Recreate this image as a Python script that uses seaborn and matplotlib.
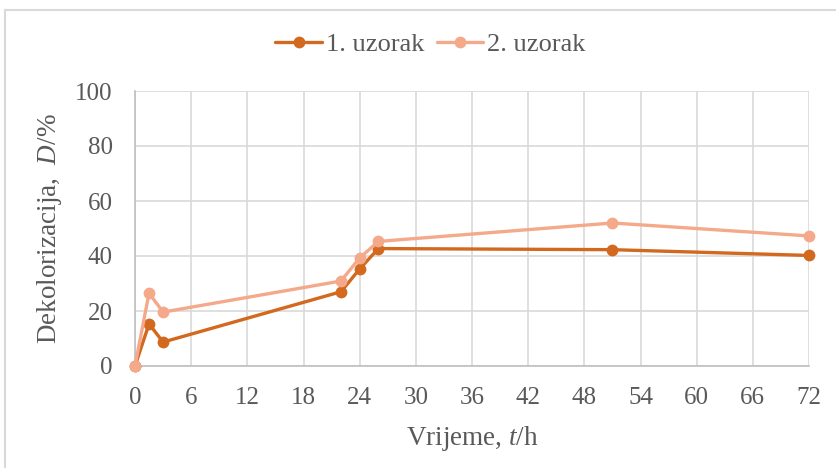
import matplotlib
matplotlib.use("Agg")
import matplotlib.pyplot as plt
import seaborn as sns
import pandas as pd
from matplotlib.patches import Rectangle

time_h = [0, 1.5, 3, 22, 24, 26, 51, 72]
uzorak1 = [0, 15.3, 8.7, 27.0, 35.3, 42.7, 42.3, 40.2]
uzorak2 = [0, 26.5, 19.6, 30.9, 39.3, 45.3, 52.0, 47.3]
series_names = ["1. uzorak", "2. uzorak"]
colors = ["#D2691E", "#F4A98A"]
xticks = list(range(0, 73, 6))
yticks = list(range(0, 101, 20))

df = pd.DataFrame({
    "t": time_h * 2,
    "D": uzorak1 + uzorak2,
    "serija": [series_names[0]] * len(time_h) + [series_names[1]] * len(time_h),
})

sns.set_theme(style="white")
plt.rcParams["font.family"] = ["Liberation Serif", "DejaVu Serif"]
plt.rcParams["mathtext.fontset"] = "custom"
plt.rcParams["mathtext.rm"] = "Liberation Serif"
plt.rcParams["mathtext.it"] = "Liberation Serif:italic"
text_color = "#595959"

fig = plt.figure(figsize=(8.36, 4.68), dpi=100)
ax = fig.add_axes([135/836, 1-366/468, (809-135)/836, (366-91)/468])

# frame around chart area
fig.patches.append(Rectangle((5/836, -0.1), 1.2, 1-10/468+0.1, transform=fig.transFigure,
                             fill=False, edgecolor="#D9D9D9", linewidth=1.5, zorder=0))

sns.lineplot(data=df, x="t", y="D", hue="serija", palette=colors, marker="o",
             markersize=8.5, markeredgewidth=0, linewidth=2.4, ax=ax, legend=True, zorder=3)
for ln in ax.lines:
    ln.set_clip_on(False)

ax.set_xlim(0, 72)
ax.set_ylim(0, 100)
ax.set_xticks(xticks)
ax.set_yticks(yticks)
ax.grid(True, color="#D9D9D9", linewidth=1.2)
ax.set_axisbelow(True)
for s in ["top", "right"]:
    ax.spines[s].set_visible(False)
for s in ["left", "bottom"]:
    ax.spines[s].set_color("#BFBFBF")
    ax.spines[s].set_linewidth(1.2)
ax.tick_params(axis="both", colors=text_color, labelsize=18, length=0)
ax.tick_params(axis="y", pad=16)
ax.tick_params(axis="x", pad=15)
for lab in ax.get_xticklabels() + ax.get_yticklabels():
    lab.set_color(text_color)

ax.set_xlabel("Vrijeme, $\\mathit{t}$/h", fontsize=19.5, color=text_color, labelpad=11)
ax.set_ylabel("Dekolorizacija,  $\\mathit{D}$/%", fontsize=19.5, color=text_color, labelpad=8)

handles, labels = ax.get_legend_handles_labels()
ax.get_legend().remove()
leg = fig.legend(handles, labels, loc="center", bbox_to_anchor=(0.515, 0.905), ncol=2,
                 frameon=False, fontsize=19, handlelength=1.75, columnspacing=0.5,
                 handletextpad=0.15)
for t in leg.get_texts():
    t.set_color(text_color)

fig.savefig("out.png", dpi=100)
